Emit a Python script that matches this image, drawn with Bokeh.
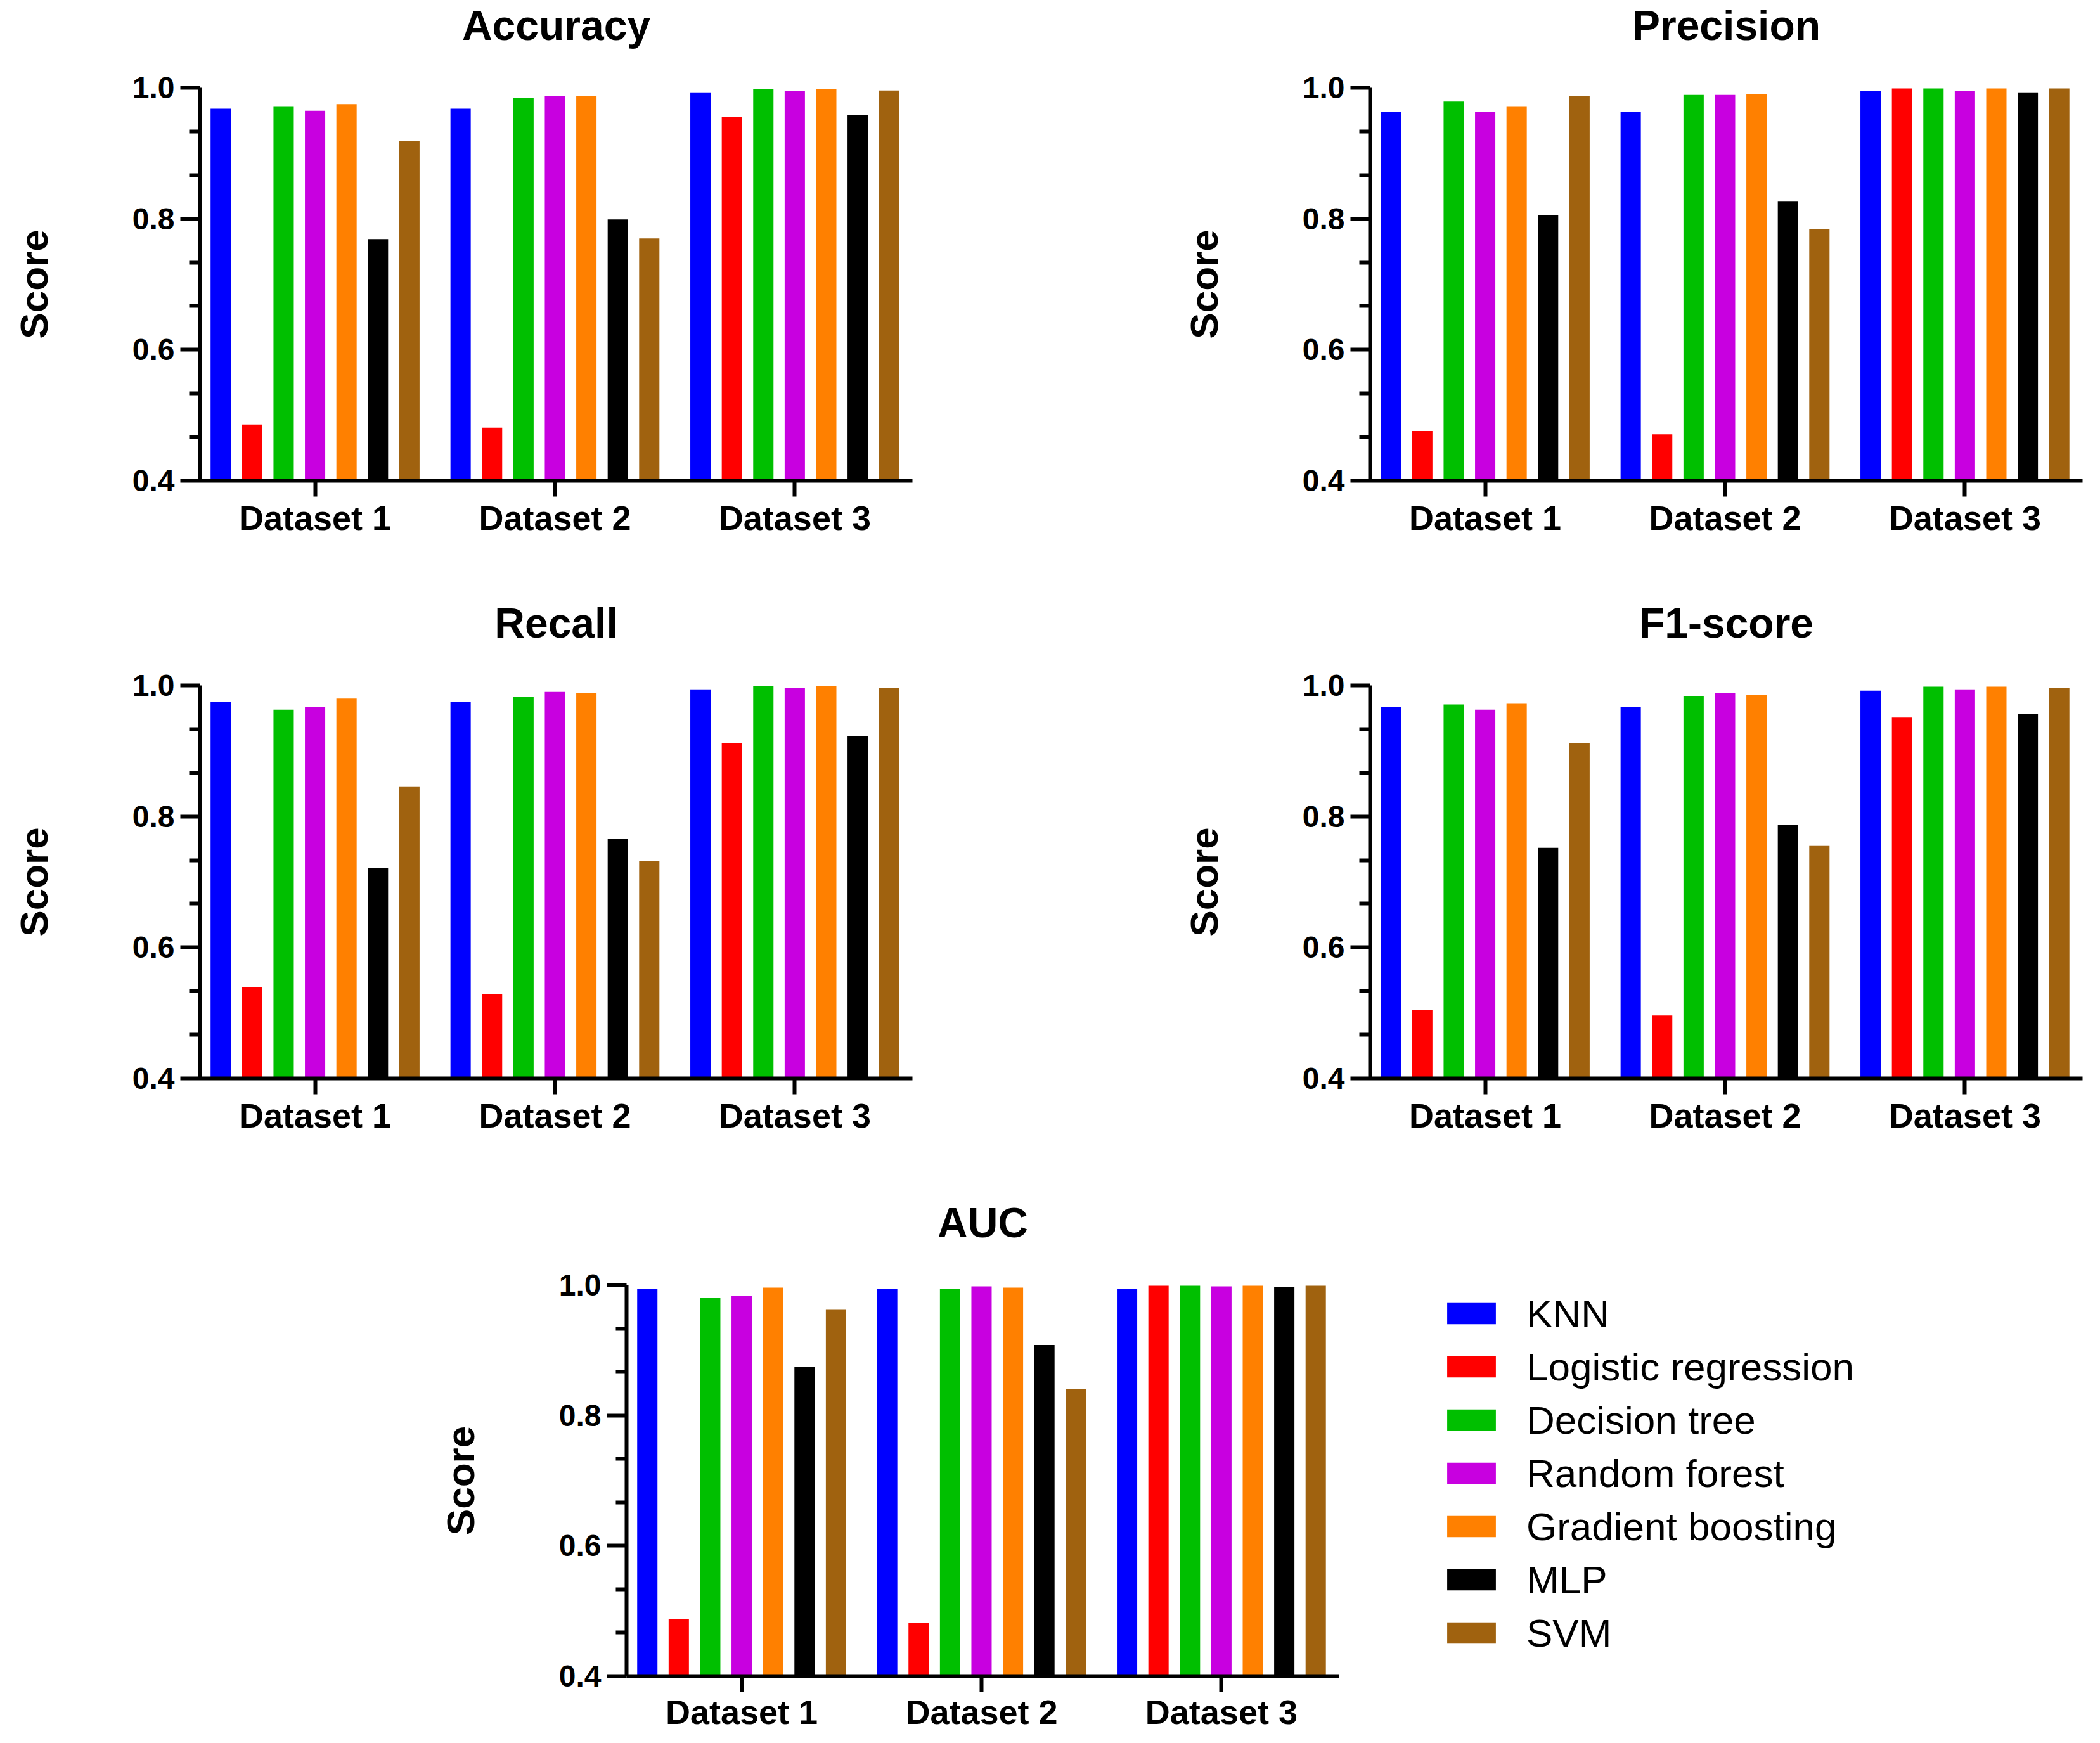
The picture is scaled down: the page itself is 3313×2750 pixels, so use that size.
from bokeh.plotting import figure
from bokeh.layouts import column, row
from bokeh.models import (ColumnDataSource, FixedTicker, Legend, LegendItem,
                          Range1d, Spacer, PrintfTickFormatter, Title)
from bokeh.transform import dodge
from bokeh.embed import file_html
from bokeh.resources import INLINE

datasets = ["Dataset 1", "Dataset 2", "Dataset 3"]
models = ["KNN", "Logistic regression", "Decision tree", "Random forest",
          "Gradient boosting", "MLP", "SVM"]
colors = ["#0000FF", "#FF0000", "#00BF00", "#C800E0", "#FF8000", "#000000", "#A0620F"]

# one row per model, one value per dataset
accuracy = [
    [0.968, 0.968, 0.993],
    [0.486, 0.481, 0.955],
    [0.971, 0.984, 0.998],
    [0.965, 0.988, 0.995],
    [0.975, 0.988, 0.998],
    [0.769, 0.799, 0.958],
    [0.919, 0.770, 0.996],
]
precision = [
    [0.963, 0.963, 0.995],
    [0.476, 0.471, 0.999],
    [0.979, 0.989, 0.999],
    [0.963, 0.989, 0.995],
    [0.971, 0.990, 0.999],
    [0.806, 0.827, 0.993],
    [0.988, 0.784, 0.999],
]
recall = [
    [0.975, 0.975, 0.994],
    [0.539, 0.529, 0.912],
    [0.963, 0.982, 0.999],
    [0.967, 0.990, 0.996],
    [0.980, 0.988, 0.999],
    [0.721, 0.766, 0.922],
    [0.846, 0.732, 0.996],
]
f1_score = [
    [0.967, 0.967, 0.992],
    [0.504, 0.496, 0.951],
    [0.971, 0.984, 0.998],
    [0.963, 0.988, 0.994],
    [0.973, 0.986, 0.998],
    [0.752, 0.787, 0.957],
    [0.912, 0.756, 0.996],
]
auc = [
    [0.994, 0.994, 0.994],
    [0.487, 0.482, 0.999],
    [0.980, 0.994, 0.999],
    [0.983, 0.998, 0.998],
    [0.996, 0.996, 0.999],
    [0.874, 0.908, 0.997],
    [0.962, 0.841, 0.999],
]
y_ticks = [0.4, 0.6, 0.8, 1.0]

BAR_W = 0.0846
PITCH = 0.1311
X_START, X_END = 0.0202, 2.9905
FONT = "Liberation Sans"


def make(title, values, width, height, left, right, top, bottom,
         with_legend=False, xlabel_standoff=3):
    xs = [i + 0.5 for i in range(len(datasets))]
    data = {"x": xs}
    for k, v in enumerate(values):
        data[f"m{k}"] = v
    src = ColumnDataSource(data)
    p = figure(width=width, height=height,
               x_range=Range1d(X_START, X_END),
               y_range=Range1d(y_ticks[0], y_ticks[-1]),
               output_backend="svg", toolbar_location=None,
               min_border_left=left, min_border_right=right,
               min_border_top=top, min_border_bottom=bottom)
    rends = []
    n = len(models)
    for j, c in enumerate(colors):
        r = p.vbar(x=dodge("x", (j - (n - 1) / 2) * PITCH), top=f"m{j}",
                   bottom=y_ticks[0], width=BAR_W, source=src,
                   fill_color=c, line_color=None)
        rends.append(r)

    # invisible spacer between frame and title, so the title sits high
    p.add_layout(Title(text=" ", text_font_size="1px", standoff=59), "above")
    p.title.text = title
    p.title.align = "center"
    p.title.vertical_align = "bottom"
    p.title.text_font = FONT
    p.title.text_font_style = "bold"
    p.title.text_font_size = "66px"
    p.title.text_color = "black"
    p.title.standoff = 0

    p.xgrid.visible = False
    p.ygrid.visible = False
    p.outline_line_color = None

    minor = [a + (b - a) * k / 3 for a, b in zip(y_ticks[:-1], y_ticks[1:]) for k in (1, 2)]
    p.yaxis.ticker = FixedTicker(ticks=y_ticks, minor_ticks=minor)
    p.yaxis.formatter = PrintfTickFormatter(format="%.1f")
    p.xaxis.ticker = FixedTicker(ticks=xs)
    p.xaxis.major_label_overrides = {x: d for x, d in zip(xs, datasets)}

    for ax in (p.xaxis[0], p.yaxis[0]):
        ax.axis_line_width = 6
        ax.axis_line_color = "black"
        ax.major_tick_line_width = 6
        ax.minor_tick_line_width = 6
        ax.major_tick_line_color = "black"
        ax.minor_tick_line_color = "black"
        ax.major_tick_in = 0
        ax.minor_tick_in = 0
        ax.major_label_text_font = FONT
        ax.major_label_text_font_style = "bold"
        ax.major_label_text_color = "black"
    p.yaxis.major_tick_out = 31
    p.yaxis.minor_tick_out = 17
    p.yaxis.major_label_text_font_size = "48px"
    p.yaxis.major_label_standoff = 9
    p.xaxis.major_tick_out = 25
    p.xaxis.minor_tick_out = 0
    p.xaxis.major_label_text_font_size = "54px"
    p.xaxis.major_label_text_line_height = 1.0
    p.xaxis.major_label_standoff = xlabel_standoff

    p.yaxis.axis_label = "Score"
    p.yaxis.axis_label_text_font = FONT
    p.yaxis.axis_label_text_font_style = "bold"
    p.yaxis.axis_label_text_font_size = "62px"
    p.yaxis.axis_label_text_color = "black"
    p.yaxis.axis_label_standoff = 118

    if with_legend:
        items = [LegendItem(label=m, renderers=[r]) for m, r in zip(models, rends)]
        leg = Legend(items=items, location=(161, 32),
                     glyph_width=96, glyph_height=42, label_height=72,
                     label_standoff=39, spacing=12, padding=0, margin=0,
                     border_line_color=None, background_fill_alpha=0,
                     label_text_font=FONT, label_text_font_size="62px",
                     label_text_color="black")
        p.add_layout(leg, "right")
    return p


p1 = make("Accuracy", accuracy, 1846, 943, 315, 407, 134, 185)
p2 = make("Precision", precision, 1451, 943, 315, 12, 134, 185)
p3 = make("Recall", recall, 1846, 946, 315, 407, 134, 188)
p4 = make("F1-score", f1_score, 1451, 946, 315, 12, 134, 188)
p5 = make("AUC", auc, 2624, 845, 315, 1185, 131, 90,
          with_legend=True, xlabel_standoff=1)

layout = column(
    row(p1, p2),
    row(p3, p4),
    row(Spacer(width=673, height=845), p5),
)

open("out.html", "w").write(file_html(layout, INLINE))
